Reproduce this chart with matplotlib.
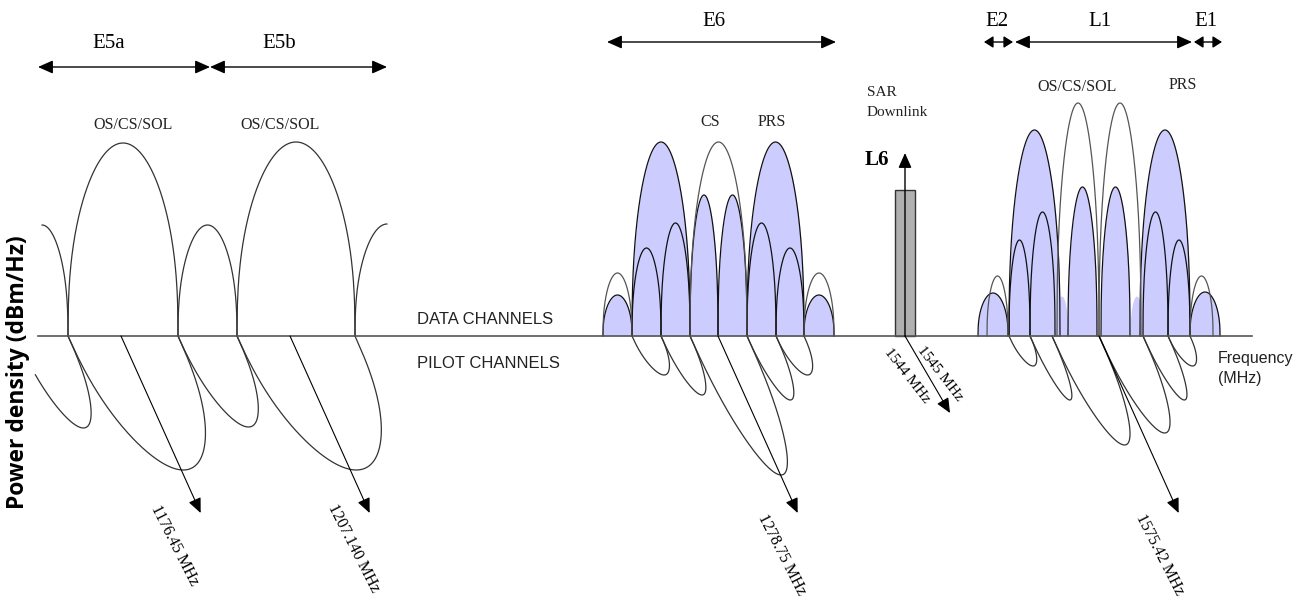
import numpy as np
import matplotlib.pyplot as plt

# frequency bands along the top (drawn positions along the frequency axis)
band_names = ["E5a", "E5b", "E6", "E2", "L1", "E1"]
band_start = [38, 210, 607, 984, 1015, 1194]
band_end = [210, 387, 836, 1013, 1192, 1222]

# spectral lobes: (left foot, right foot, peak height above the axis)
e5_data = [(16, 68, 111), (68, 178, 193), (178, 237, 111), (237, 355, 194), (355, 419, 112)]
e5_pilot = [(16, 68, 92), (68, 178, 134), (178, 237, 91), (237, 355, 134)]

e6_outline = [(603, 632, 63), (690, 747, 194), (804, 834, 63)]
e6_main = [(632, 690, 194), (747, 804, 194)]
e6_small = [(603, 632, 41), (804, 834, 41), (632, 661, 88), (661, 690, 113),
            (690, 718, 141), (718, 747, 141), (747, 776, 113), (776, 804, 88)]
e6_pilot = [(632, 661, 39), (661, 690, 59), (690, 747, 139), (747, 776, 64), (776, 804, 39)]

l1_outline = [(987, 1008, 60), (1057, 1099, 233), (1099, 1141, 233), (1190, 1213, 60)]
l1_main = [(1009, 1060, 206), (1140, 1190, 206)]
l1_small = [(978, 1008, 43), (1190, 1220, 44), (1009, 1030, 96), (1030, 1055, 124),
            (1068, 1097, 149), (1101, 1130, 149), (1143, 1168, 124), (1168, 1190, 96)]
l1_gap = [(1055, 1068, 40), (1130, 1143, 40)]
l1_pilot = [(1009, 1030, 30), (1030, 1052, 64), (1052, 1099, 109), (1099, 1143, 97),
            (1143, 1168, 64), (1168, 1190, 30)]

# SAR downlink (L6) line
sar_left, sar_right, sar_height = 895, 915, 146

# carrier frequencies: (position on axis, label)
carriers = [(121, "1176.45 MHz"), (290, "1207.140 MHz"), (718, "1278.75 MHz"), (1099, "1575.42 MHz")]

BASE = 336
SHEAR = 0.45
LAV = "#ccccff"
SERIF = "Liberation Serif"
SANS = "Liberation Sans"


def lobe(a, b, h, n=300):
    t = np.linspace(0, 1, n)
    x = a + (b - a) * t
    d = h * np.sin(np.pi * t) ** 0.4
    return x, d


fig = plt.figure(figsize=(13.1, 6.03), dpi=100)
ax = fig.add_axes([0, 0, 1, 1])
ax.set_xlim(0, 1310)
ax.set_ylim(603, 0)
ax.axis("off")

# E5 data lobes (outline only, clipped at the band edges)
for a, b, h in e5_data:
    x, d = lobe(a, b, h)
    keep = (x >= 42) & (x <= 387)
    ax.plot(x[keep], BASE - d[keep], color="#333333", lw=0.9)

# filled lobes (E6 and L1)
for a, b, h in l1_gap:
    x, d = lobe(a, b, h)
    ax.fill_between(x, BASE, BASE - d, color=LAV, lw=0)
for group in (e6_main, l1_main, e6_small, l1_small):
    for a, b, h in group:
        x, d = lobe(a, b, h)
        ax.fill_between(x, BASE, BASE - d, color=LAV, lw=0)
        ax.plot(x, BASE - d, color="#111111", lw=0.9)

# outline-only lobes on top
for group in (e6_outline, l1_outline):
    for a, b, h in group:
        x, d = lobe(a, b, h)
        ax.plot(x, BASE - d, color="#555555", lw=0.9)

# pilot channels: sheared lobes below the axis
for group in (e5_pilot, e6_pilot, l1_pilot):
    for a, b, h in group:
        x, d = lobe(a, b, h)
        xs = x + SHEAR * d
        keep = xs >= 35
        ax.plot(xs[keep], BASE + d[keep], color="#333333", lw=0.9)

# SAR bar
ax.add_patch(plt.Rectangle((sar_left, BASE - sar_height), sar_right - sar_left, sar_height,
                           facecolor="#b0b0b0", edgecolor="#333333", lw=1))
sar_mid = (sar_left + sar_right) / 2
ax.annotate("", xy=(sar_mid, 153), xytext=(sar_mid, BASE),
            arrowprops=dict(arrowstyle="-|>,head_length=0.9,head_width=0.4", color="k",
                            lw=1, shrinkA=0, shrinkB=0))
ax.annotate("", xy=(sar_mid + 45, 413), xytext=(sar_mid, BASE),
            arrowprops=dict(arrowstyle="-|>,head_length=0.9,head_width=0.4", color="k",
                            lw=0.8, shrinkA=0, shrinkB=0))

# axis line
ax.plot([38, 1252], [BASE, BASE], color="#555555", lw=1.2)

# carrier arrows and labels
depth = 177
for xc, lab in carriers:
    tip = xc + SHEAR * depth
    ax.annotate("", xy=(tip, BASE + depth), xytext=(xc, BASE),
                arrowprops=dict(arrowstyle="-|>,head_length=0.9,head_width=0.4", color="k",
                                lw=0.8, shrinkA=0, shrinkB=0))
lab_pos = [(175, 545), (354, 548), (782, 555), (1160, 555)]
for (xc, lab), (lx, ly) in zip(carriers, lab_pos):
    ax.text(lx, ly, lab, rotation=-63, rotation_mode="anchor", ha="center", va="center",
            fontsize=11.5, family=SERIF)
ax.text(907, 376, "1544 MHz", rotation=-52, rotation_mode="anchor", ha="center",
        va="center", fontsize=11, family=SERIF)
ax.text(940, 374, "1545 MHz", rotation=-52, rotation_mode="anchor", ha="center",
        va="center", fontsize=11, family=SERIF)

# band arrows along the top
band_y = [67, 67, 42, 42, 42, 42]
for s, e, yy in zip(band_start, band_end, band_y):
    hl, hw = (0.9, 0.4) if e - s > 60 else (0.55, 0.35)
    ax.annotate("", xy=(e, yy), xytext=(s, yy),
                arrowprops=dict(arrowstyle=f"<|-|>,head_length={hl},head_width={hw}",
                                color="k", lw=1, shrinkA=0, shrinkB=0))
label_xy = [(109, 43), (279, 43), (714, 22), (997, 22), (1100, 22), (1206, 22)]
for name, (lx, ly) in zip(band_names, label_xy):
    ax.text(lx, ly, name, ha="center", va="center", fontsize=15, family=SERIF)

# service labels
for lx, ly, s in [(133, 125, "OS/CS/SOL"), (280, 125, "OS/CS/SOL"), (710, 122, "CS"),
                  (772, 122, "PRS"), (1077, 87, "OS/CS/SOL"), (1183, 85, "PRS")]:
    ax.text(lx, ly, s, ha="center", va="center", fontsize=11.5, family=SERIF, color="#222222")

ax.text(867, 92, "SAR", ha="left", va="center", fontsize=11, family=SERIF, color="#222222")
ax.text(867, 112, "Downlink", ha="left", va="center", fontsize=11, family=SERIF, color="#222222")
ax.text(877, 160, "L6", ha="center", va="center", fontsize=15, family=SERIF, weight="bold")

ax.text(417, 320, "DATA CHANNELS", ha="left", va="center", fontsize=12, family=SANS, color="#222222")
ax.text(417, 363, "PILOT CHANNELS", ha="left", va="center", fontsize=12, family=SANS, color="#222222")
ax.text(1218, 358, "Frequency", ha="left", va="center", fontsize=11.5, family=SANS, color="#222222")
ax.text(1218, 378, "(MHz)", ha="left", va="center", fontsize=11.5, family=SANS, color="#222222")

ax.text(18, 372, "Power density (dBm/Hz)", rotation=90, ha="center", va="center",
        fontsize=16.5, family="Open Sans", weight="bold")

plt.savefig("out.png", dpi=100)
plt.close()
